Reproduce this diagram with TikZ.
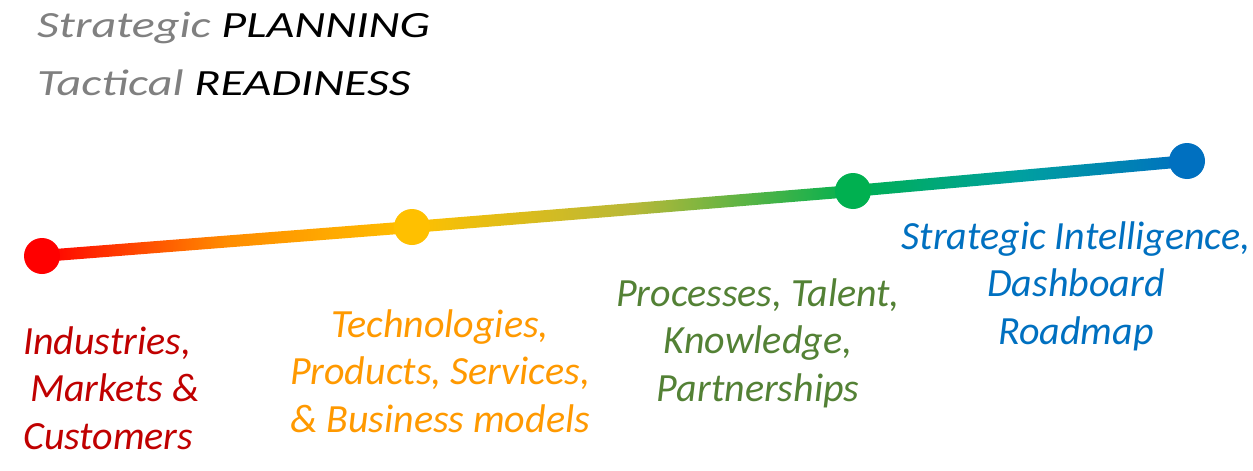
\documentclass[tikz,border=0pt]{standalone}
\usepackage{fontspec}
\setmainfont{Carlito}
\newfontfamily\titlefont[FakeStretch=1.3]{Carlito}
\usetikzlibrary{calc}
\definecolor{cRed}{HTML}{FF0000}
\definecolor{cOrange}{HTML}{FF8C00}
\definecolor{cYellow}{HTML}{FFC000}
\definecolor{cOlive}{HTML}{B8B838}
\definecolor{cGreen}{HTML}{00B050}
\definecolor{cTeal}{HTML}{00A0A0}
\definecolor{cBlue}{HTML}{0070C0}
\definecolor{tRed}{HTML}{C00000}
\definecolor{tOrange}{HTML}{FF9900}
\definecolor{tGreen}{HTML}{538135}
\definecolor{tBlue}{HTML}{0070C0}
\definecolor{tGrey}{HTML}{808080}
\begin{document}
\begin{tikzpicture}[x=1pt,y=-1pt,
  dot/.style={circle,inner sep=0pt,minimum size=36pt},
  title/.style={inner sep=0pt,anchor=base west,font=\titlefont\fontsize{37}{44}\selectfont\itshape},
  lab/.style={inner sep=0pt,font=\fontsize{40}{47.5}\selectfont\itshape}]
\useasboundingbox (0,0) rectangle (1253,471);
\fill[white] (0,0) rectangle (1253,471);
% titles
\node[title] (t1) at (37,37) {\textcolor{tGrey}{Strategic} PLANNING};
\node[title] (t2) at (37,95) {\textcolor{tGrey}{Tactical} READINESS};
% positions
\coordinate (pa) at (42,256);
\coordinate (pb) at (412,227);
\coordinate (pc) at (853,191);
\coordinate (pd) at (1187,161);
% gradient connectors
\shade[left color=cRed,right color=cYellow,middle color=cOrange]
  ($(pa)+(0,-6)$) -- ($(pb)+(0,-6)$) -- ($(pb)+(0,6)$) -- ($(pa)+(0,6)$) -- cycle;
\shade[left color=cYellow,right color=cGreen,middle color=cOlive]
  ($(pb)+(0,-6)$) -- ($(pc)+(0,-6)$) -- ($(pc)+(0,6)$) -- ($(pb)+(0,6)$) -- cycle;
\shade[left color=cGreen,right color=cBlue,middle color=cTeal]
  ($(pc)+(0,-6)$) -- ($(pd)+(0,-6)$) -- ($(pd)+(0,6)$) -- ($(pc)+(0,6)$) -- cycle;
% dots
\node[dot,fill=cRed] (a) at (pa) {};
\node[dot,fill=cYellow] (b) at (pb) {};
\node[dot,fill=cGreen] (c) at (pc) {};
\node[dot,fill=cBlue] (d) at (pd) {};
% labels (base anchor = baseline of last line)
\node[lab,text=tRed,align=left,anchor=base west] (la) at (23,449)
  {Industries,\\\hspace*{7pt}Markets \&\\Customers};
\node[lab,text=tOrange,align=center,anchor=base] (lb) at (440,432)
  {Technologies,\\Products, Services,\\\& Business models};
\node[lab,text=tGreen,align=center,anchor=base] (lc) at (758,401)
  {Processes, Talent,\\Knowledge,\\Partnerships};
\node[lab,text=tBlue,align=center,anchor=base] (ld) at (1076,344)
  {Strategic Intelligence,\\Dashboard\\Roadmap};
\end{tikzpicture}
\end{document}
